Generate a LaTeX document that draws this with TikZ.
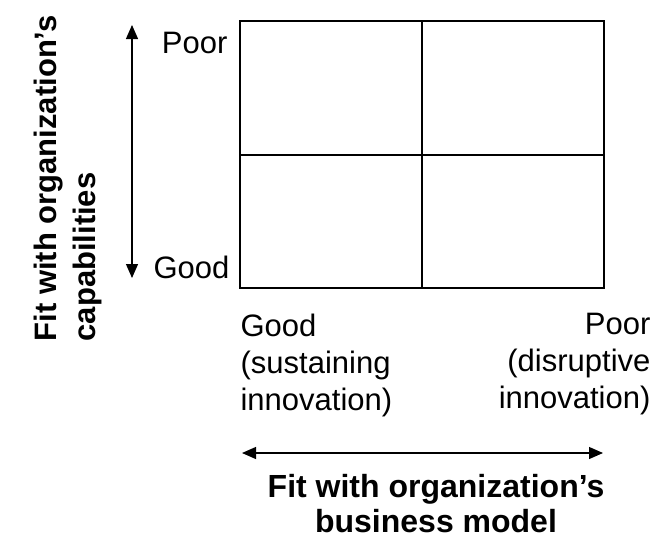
\documentclass[tikz,border=0pt]{standalone}
\usepackage{fontspec}
\setmainfont{Liberation Sans}
\usetikzlibrary{arrows.meta}

\begin{document}
\begin{tikzpicture}[x = 1pt, y = -1pt, line width = 1.2pt,
        lbl/.style = {inner sep = 0, font = \fontsize{31}{37}\selectfont},
        ttl/.style = {inner sep = 0, font = \fontsize{32}{35}\selectfont\bfseries},
        axis/.style = {{Triangle[length = 14pt, width = 12pt]}-{Triangle[length = 14pt, width = 12pt]}}]
    \useasboundingbox (0, 0) rectangle (661, 538);
    % grid
    \draw (240, 21) rectangle (604, 288);
    \draw (422, 21) -- (422, 288);
    \draw (240, 155) -- (604, 155);
    % arrow ends
    \coordinate (vtop) at (132, 25);
    \coordinate (vbot) at (132, 278);
    \coordinate (hleft) at (242, 453);
    \coordinate (hright) at (603, 453);
    \draw[axis] (vbot) -- (vtop);
    \draw[axis] (hleft) -- (hright);
    % labels
    \node[lbl, anchor = base east] (poorv) at (228, 53) {Poor};
    \node[lbl, anchor = base east] (goodv) at (230, 278) {Good};
    \node[lbl, anchor = north west, align = left] (goodh) at (240, 313)
        {Good\\(sustaining\\innovation)};
    \node[lbl, anchor = north east, align = right] (poorh) at (651, 313)
        {Poor\\(disruptive\\innovation)};
    \node[ttl, anchor = north, align = center] (xtitle) at (436, 473.5)
        {Fit with organization’s\\business model};
    \node[ttl, font = \fontsize{31}{39}\selectfont\bfseries, anchor = north west,
        align = left, rotate = 90] (ytitle) at (33, 342)
        {Fit with organization’s\\capabilities};
\end{tikzpicture}
\end{document}
